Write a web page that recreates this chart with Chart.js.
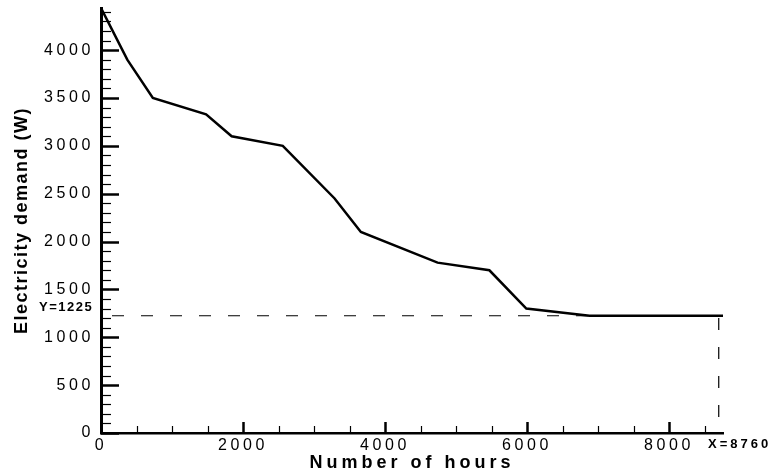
<!DOCTYPE html>
<html>
<head>
<meta charset="utf-8">
<script src="https://cdn.jsdelivr.net/npm/chart.js@4.4.1/dist/chart.umd.min.js"></script>
<style>
    html, body { margin: 0; padding: 0; background: #fff; }
    #wrap { width: 772px; height: 473px; }
</style>
</head>
<body>
<div id="wrap"><canvas id="chart"></canvas></div>
<script>
// Load duration curve (hours sorted by demand).
const HOURS = [0, 370, 730, 1480, 1840, 2560, 3290, 3660, 4740, 5470, 5990, 6880, 8760];
const DEMAND = [4440, 3900, 3500, 3330, 3100, 3000, 2450, 2100, 1780, 1700, 1300, 1225, 1225];

const X_TICKS = [0, 2000, 4000, 6000, 8000];
const Y_TICKS = [0, 500, 1000, 1500, 2000, 2500, 3000, 3500, 4000];
const X_MAX = 8760;
const Y_MAX = 4440;
const X_MINOR_STEP = 500;
const Y_MINOR_STEP = 100;

// Base load guide and its labels.
const BASE_LOAD = 1225;
const YEAR_HOURS = 8760;
const GUIDE_X = 8700; // the dashed drop sits a little left of the axis end

const FONT = "'Liberation Sans', Arial, Helvetica, sans-serif";

// Tecplot-like frame: ticks drawn inward, spaced-out lettering.
const framePlugin = {
    id: "frame",
    beforeDraw(chart) {
        chart.ctx.letterSpacing = "3.6px";
    },
    afterDraw(chart) {
        const { ctx, chartArea: a, scales: { x, y } } = chart;
        ctx.save();
        ctx.strokeStyle = "#000";

        for (let v = 0; v <= Y_MAX; v += Y_MINOR_STEP) {
            const major = Y_TICKS.includes(v);
            const py = Math.round(y.getPixelForValue(v)) + 0.5;
            ctx.lineWidth = major ? 2.5 : 1.2;
            ctx.beginPath();
            ctx.moveTo(a.left, py);
            ctx.lineTo(a.left + (major ? 18 : 10), py);
            ctx.stroke();
        }
        for (let v = 0; v <= X_MAX; v += X_MINOR_STEP) {
            const major = X_TICKS.includes(v);
            const px = Math.round(x.getPixelForValue(v)) + 0.5;
            ctx.lineWidth = major ? 2.5 : 1.2;
            ctx.beginPath();
            ctx.moveTo(px, a.bottom);
            ctx.lineTo(px, a.bottom - (major ? 11 : 7));
            ctx.stroke();
        }

        ctx.fillStyle = "#000";

        // axis titles
        ctx.font = "bold 18px " + FONT;
        ctx.textAlign = "center";
        ctx.textBaseline = "middle";
        ctx.letterSpacing = "4px";
        ctx.fillText("Number of hours", (a.left + a.right) / 2, 463);

        ctx.letterSpacing = "1.5px";
        ctx.save();
        ctx.translate(22, (a.top + a.bottom) / 2);
        ctx.rotate(-Math.PI / 2);
        ctx.fillText("Electricity demand (W)", 0, 0);
        ctx.restore();

        // guide labels
        ctx.font = "bold 13px " + FONT;
        ctx.textAlign = "left";
        ctx.letterSpacing = "1.5px";
        ctx.fillText("Y=" + BASE_LOAD, 39, y.getPixelForValue(BASE_LOAD) - 8);
        ctx.letterSpacing = "3px";
        ctx.fillText("X=" + YEAR_HOURS, x.getPixelForValue(YEAR_HOURS) - 15, a.bottom + 11);

        ctx.restore();
    },
};

const plain = (v) => String(v);

new Chart(document.getElementById("chart"), {
    type: "line",
    data: {
        datasets: [
            {
                data: HOURS.map((h, i) => ({ x: h, y: DEMAND[i] })),
                borderColor: "#000",
                borderWidth: 2.5,
                pointRadius: 0,
                tension: 0,
            },
            {
                data: [
                    { x: 0, y: BASE_LOAD },
                    { x: GUIDE_X, y: BASE_LOAD },
                    { x: GUIDE_X, y: 0 },
                ],
                borderColor: "#000",
                borderWidth: 1.2,
                borderDash: [12, 17],
                borderDashOffset: 18,
                pointRadius: 0,
                tension: 0,
            },
        ],
    },
    options: {
        responsive: true,
        maintainAspectRatio: false,
        animation: false,
        events: [],
        layout: { padding: { left: 0, right: 49, top: 8, bottom: 0 } },
        plugins: { legend: { display: false }, tooltip: { enabled: false } },
        scales: {
            x: {
                type: "linear",
                min: 0,
                max: X_MAX,
                afterBuildTicks: (s) => { s.ticks = X_TICKS.map((v) => ({ value: v })); },
                afterFit: (s) => { s.height = 40; s.paddingLeft = 0; s.paddingRight = 0; },
                grid: { display: false, drawTicks: false },
                border: { display: true, color: "#000", width: 2.5 },
                ticks: {
                    color: "#000",
                    font: { family: FONT, size: 16 },
                    padding: 3,
                    maxRotation: 0,
                    autoSkip: false,
                    callback: plain,
                },
            },
            y: {
                type: "linear",
                min: 0,
                max: Y_MAX,
                afterBuildTicks: (s) => { s.ticks = Y_TICKS.map((v) => ({ value: v })); },
                afterFit: (s) => { s.width = 101; s.paddingTop = 0; s.paddingBottom = 0; },
                grid: { display: false, drawTicks: false },
                border: { display: true, color: "#000", width: 3 },
                ticks: {
                    color: "#000",
                    font: { family: FONT, size: 16 },
                    padding: 7,
                    autoSkip: false,
                    callback: plain,
                },
            },
        },
    },
    plugins: [framePlugin],
});
</script>
</body>
</html>
